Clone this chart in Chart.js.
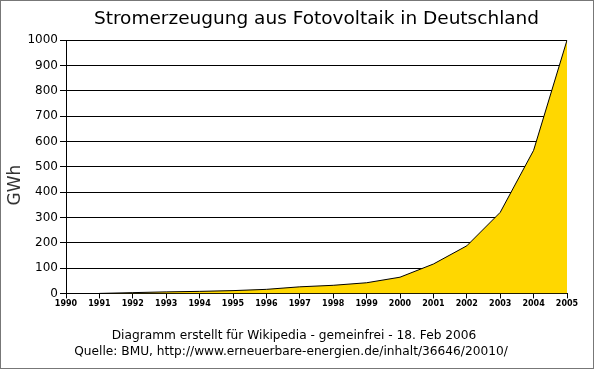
<!DOCTYPE html>
<html>
<head>
<meta charset="utf-8">
<script src="https://cdn.jsdelivr.net/npm/chart.js@4/dist/chart.umd.min.js"></script>
<style>
    html, body { margin: 0; padding: 0; background: #fff; }
    #wrap { position: relative; width: 592px; height: 367px; border: 1px solid #777; }
</style>
</head>
<body>
<div id="wrap"><canvas id="pvChart" width="592" height="367"></canvas></div>
<script>
// Jahre und Stromerzeugung (GWh)
const years = ['1990', '1991', '1992', '1993', '1994', '1995', '1996', '1997',
               '1998', '1999', '2000', '2001', '2002', '2003', '2004', '2005'];
const generation = [null, 0, 3, 6, 8, 11, 16, 26, 32, 42, 64, 116, 188, 320, 565, 1000];
const yTicks = [0, 100, 200, 300, 400, 500, 600, 700, 800, 900, 1000];
const footerLines = ['Diagramm erstellt für Wikipedia - gemeinfrei - 18. Feb 2006',
                     'Quelle: BMU, http://www.erneuerbare-energien.de/inhalt/36646/20010/'];

const font = 'DejaVu Sans';

// draws the rotated "GWh" label and the two footer lines
const extraTextPlugin = {
    id: 'extraText',
    afterDraw(chart) {
        const ctx = chart.ctx;
        ctx.save();
        ctx.translate(15, 184);
        ctx.rotate(-Math.PI / 2);
        ctx.font = '17px ' + font;
        ctx.fillStyle = '#333';
        ctx.textAlign = 'center';
        ctx.textBaseline = 'middle';
        ctx.fillText('GWh', 0, 0);
        ctx.restore();

        ctx.save();
        ctx.font = '12.2px ' + font;
        ctx.fillStyle = '#000';
        ctx.textAlign = 'center';
        ctx.textBaseline = 'middle';
        ctx.fillText(footerLines[0], 293, 335);
        ctx.fillText(footerLines[1], 290, 351);
        ctx.restore();
    }
};

const ctx = document.getElementById('pvChart').getContext('2d');
const pvChart = new Chart(ctx, {
    type: 'line',
    data: {
        labels: years,
        datasets: [{
            label: 'Stromerzeugung',
            data: generation,
            backgroundColor: '#FFD700',
            borderColor: '#000',
            borderWidth: 1,
            fill: 'origin',
            pointRadius: 0,
            tension: 0
        }]
    },
    options: {
        responsive: false,
        animation: false,
        layout: { padding: { left: 0, right: 26, top: 0, bottom: 58 } },
        plugins: {
            legend: { display: false },
            tooltip: { enabled: false },
            title: {
                display: true,
                fullSize: false,
                text: 'Stromerzeugung aus Fotovoltaik in Deutschland',
                color: '#000',
                font: { family: font, size: 18.5, weight: 'normal' },
                padding: { top: 7, bottom: 10 }
            }
        },
        scales: {
            x: {
                grid: { drawOnChartArea: false, color: '#000', tickLength: 5 },
                border: { color: '#000' },
                ticks: {
                    color: '#000',
                    font: { family: font, size: 8, weight: 'bold' },
                    maxRotation: 0,
                    autoSkip: false,
                    padding: 1
                }
            },
            y: {
                min: 0,
                max: 1000,
                afterFit(scale) { scale.width = 65; },
                afterBuildTicks(scale) { scale.ticks = yTicks.map(v => ({ value: v })); },
                grid: { color: '#000', tickLength: 6 },
                border: { color: '#000' },
                ticks: {
                    color: '#000',
                    font: { family: font, size: 12 },
                    padding: 2,
                    callback: v => String(v)
                }
            }
        }
    },
    plugins: [extraTextPlugin]
});
</script>
</body>
</html>
